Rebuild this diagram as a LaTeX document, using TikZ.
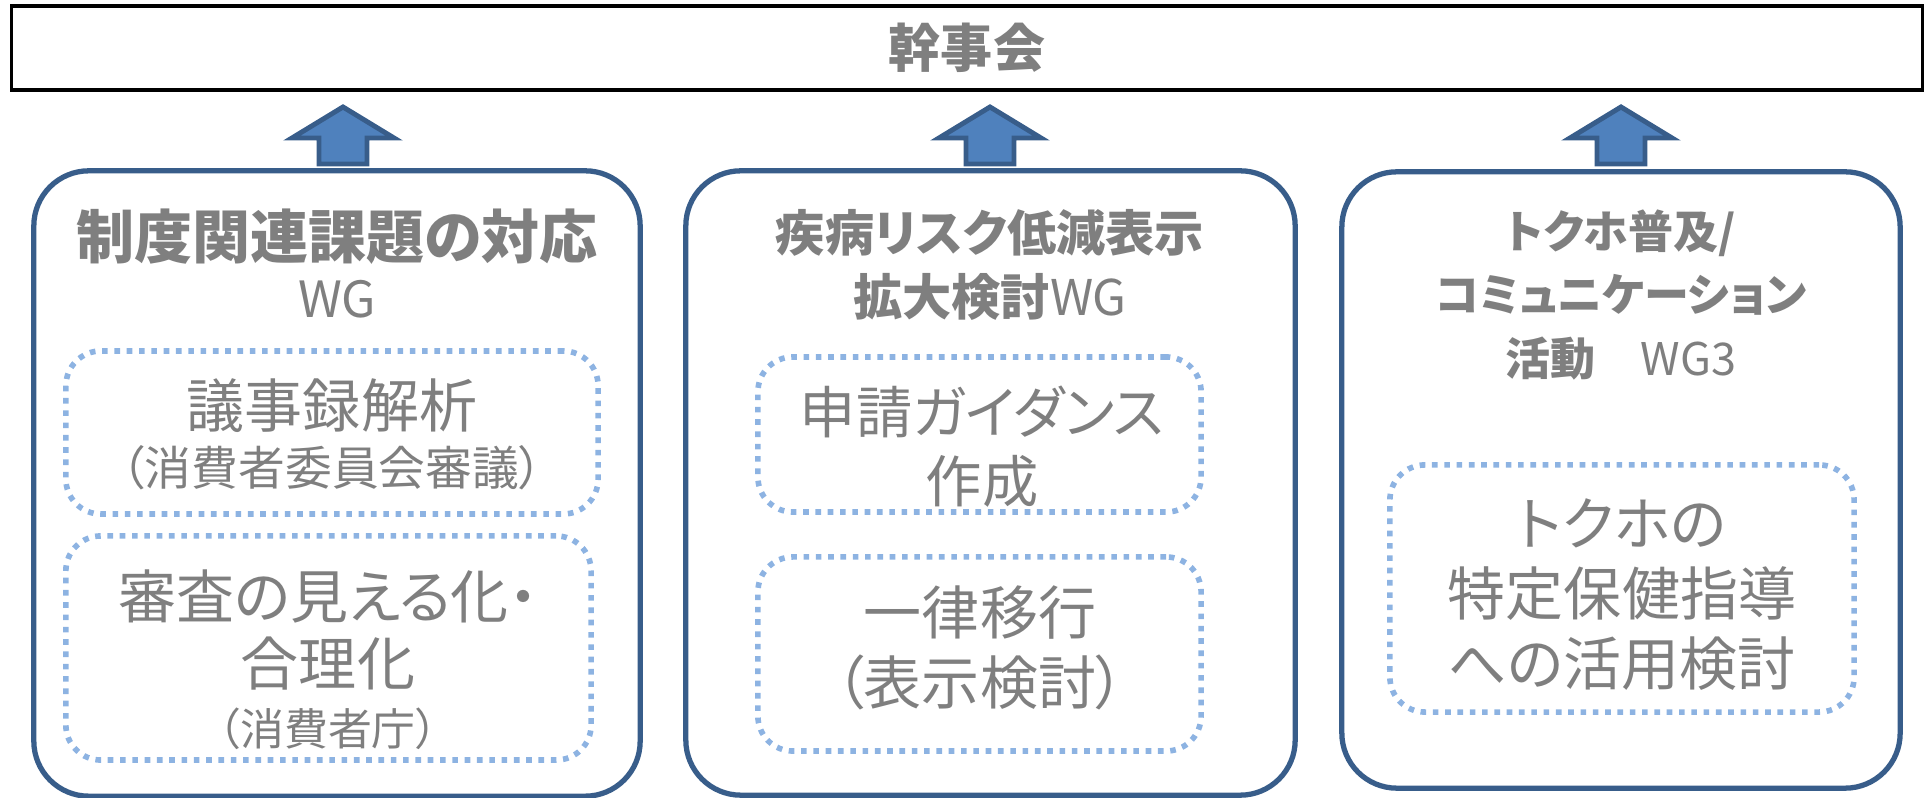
\documentclass[tikz,border=0pt]{standalone}
\usepackage{fontspec}
\setmainfont{Noto Sans CJK JP}[RawFeature=+palt]
\usetikzlibrary{positioning}

\definecolor{txtgray}{HTML}{7F7F7F}
\definecolor{wgblue}{HTML}{385D8A}
\definecolor{arrowblue}{HTML}{4F81BD}
\definecolor{dotblue}{HTML}{8DB3E2}

\begin{document}
\begin{tikzpicture}[
        x=0.01cm, y=-0.01cm,
        every node/.style={text=txtgray, inner sep=0pt, align=center},
        topbox/.style={draw=black, line width=0.9pt},
        wgbox/.style={draw=wgblue, line width=1.5pt, rounded corners=0.55cm},
        taskbox/.style={draw=dotblue, line width=1.6pt, dash pattern=on 1.6pt off 1.9pt, rounded corners=0.35cm},
        upblock/.style={draw=wgblue, fill=arrowblue, line width=1.4pt, line join=miter}]

        \useasboundingbox (0,0) rectangle (1930,798);

        % --- steering committee ---
        \node[topbox, minimum width=19.10cm, minimum height=0.84cm,
              font=\bfseries\fontsize{14.8}{16}\selectfont] (kanjikai) at (967,48) {幹事会};

        % --- WG frames ---
        \node[wgbox, minimum width=6.06cm, minimum height=6.25cm] (wg1) at (337,483.5) {};
        \node[wgbox, minimum width=6.09cm, minimum height=6.24cm] (wg2) at (990.5,483) {};
        \node[wgbox, minimum width=5.58cm, minimum height=6.16cm] (wg3) at (1621,480) {};

        % arrows up to the committee
        \foreach \c in {343,990,1621}
            \draw[upblock] (\c-24,164) -- (\c-24,138) -- (\c-51,138) -- (\c,107)
                -- (\c+51,138) -- (\c+24,138) -- (\c+24,164) -- cycle;

        % --- WG 1 ---
        \node[font=\bfseries\fontsize{16.5}{18}\selectfont] (title1) at (337,237) {制度関連課題の対応};
        \node[font=\fontsize{14.2}{16}\selectfont] (wglabel1) at (337,299) {WG};

        \node[taskbox, minimum width=5.32cm, minimum height=1.63cm] (task1a) at (332,432.5) {};
        \node[font=\fontsize{16.5}{18}\selectfont] (minutes) at (332,406) {議事録解析};
        \node[font=\fontsize{13.3}{15}\selectfont] (minutesnote) at (332,468) {（消費者委員会審議）};

        \node[taskbox, minimum width=5.25cm, minimum height=2.24cm] (task1b) at (328.5,648) {};
        \node[font=\fontsize{16.5}{19.3}\selectfont] (review) at (328,630) {審査の見える化・\\合理化};
        \node[font=\fontsize{12.5}{14}\selectfont] (reviewnote) at (328,729) {（消費者庁）};

        % --- WG 2 ---
        \node[font=\fontsize{14}{18.2}\selectfont] (title2) at (990,265)
            {\textbf{疾病リスク低減表示}\\\textbf{拡大検討}WG};

        \node[taskbox, minimum width=4.43cm, minimum height=1.55cm] (task2a) at (979.5,434.5) {};
        \node[font=\fontsize{16}{19.6}\selectfont] (guidance) at (982,446.5) {申請ガイダンス\\作成};

        \node[taskbox, minimum width=4.43cm, minimum height=1.94cm] (task2b) at (979.5,654) {};
        \node[font=\fontsize{16.5}{19.9}\selectfont] (transfer) at (980,648) {一律移行\\（表示検討）};

        % --- WG 3 ---
        \node[font=\fontsize{12.8}{18.1}\selectfont] (title3) at (1621,295)
            {\textbf{トクホ普及/}\\\textbf{コミュニケーション}\\\textbf{活動}　WG3};

        \node[taskbox, minimum width=4.64cm, minimum height=2.47cm] (task3) at (1622,588.5) {};
        \node[font=\fontsize{16.5}{19.9}\selectfont] (guidanceuse) at (1622,595) {トクホの\\特定保健指導\\への活用検討};

    \end{tikzpicture}
\end{document}
